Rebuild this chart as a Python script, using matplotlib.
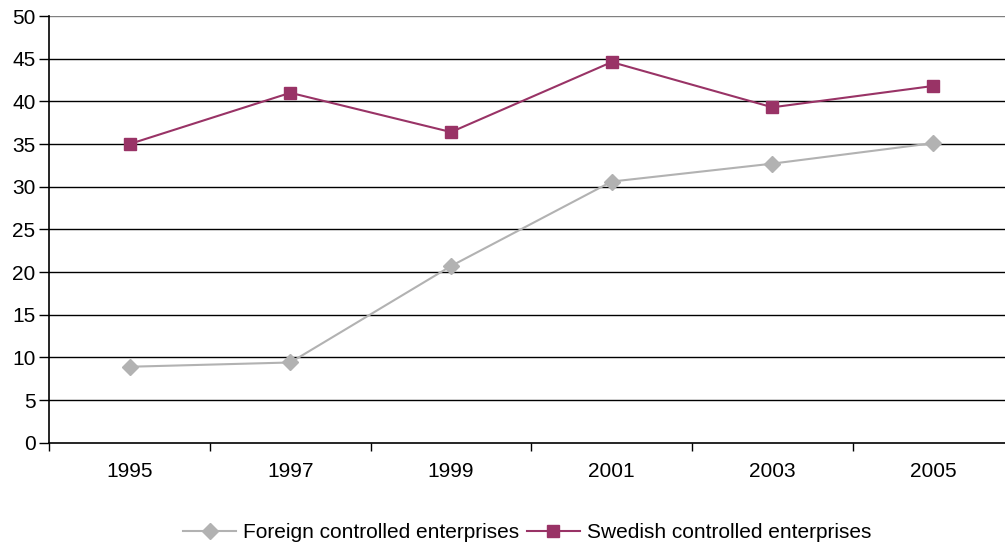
import matplotlib
matplotlib.use("Agg")
import matplotlib.pyplot as plt
from matplotlib.lines import Line2D

years = ["1995", "1997", "1999", "2001", "2003", "2005"]
foreign = [8.9, 9.4, 20.7, 30.6, 32.7, 35.1]
swedish = [35.0, 41.0, 36.4, 44.6, 39.3, 41.8]
yticks = list(range(0, 51, 5))

plt.rcParams['font.family'] = ['Liberation Sans', 'DejaVu Sans']

W, H = 1005, 548
fig = plt.figure(figsize=(W / 100, H / 100), dpi=100)
left, right, top, bottom = 49.3, 1013.4, 16, 442.7
ax = fig.add_axes([left / W, 1 - bottom / H, (right - left) / W, (bottom - top) / H])

x = list(range(len(years)))
ax.set_xlim(-0.5, len(years) - 0.5)
ax.set_ylim(0, 50)

for v in yticks[1:]:
    ax.axhline(v, color='#808080' if v == 50 else 'black', lw=1.0, zorder=1)

ax.plot(x, foreign, color='#B2B2B2', lw=1.5, marker='D', ms=8,
        mfc='#B2B2B2', mec='#B2B2B2', zorder=3, label='Foreign controlled enterprises')
ax.plot(x, swedish, color='#993366', lw=1.5, marker='s', ms=8,
        mfc='#993366', mec='#993366', zorder=4, label='Swedish controlled enterprises')

for s in ['top', 'right']:
    ax.spines[s].set_visible(False)
for s in ['left', 'bottom']:
    ax.spines[s].set_color('black')
    ax.spines[s].set_linewidth(1.2)

ax.set_yticks(yticks)
ax.set_yticklabels([str(v) for v in yticks], fontsize=15)
ax.tick_params(axis='y', direction='out', length=7, width=1, pad=3)

ax.set_xticks(x)
ax.set_xticklabels(years, fontsize=15)
ax.tick_params(axis='x', which='major', length=0, pad=14)
ax.set_xticks([i - 0.5 for i in range(len(years) + 1)], minor=True)
ax.tick_params(axis='x', which='minor', direction='out', length=6, width=1)

handles = [Line2D([], [], color='#B2B2B2', lw=1.5, marker='D', ms=8),
           Line2D([], [], color='#993366', lw=1.5, marker='s', ms=8)]
fig.legend(handles, ['Foreign controlled enterprises', 'Swedish controlled enterprises'],
           loc='center', bbox_to_anchor=(527 / W, 1 - 533 / H), ncol=2, frameon=False,
           fontsize=15, handlelength=2.55, columnspacing=0.35, handletextpad=0.33)

fig.savefig('out.png', dpi=100)
